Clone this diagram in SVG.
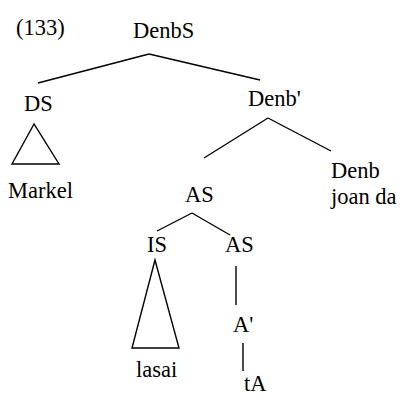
<svg xmlns="http://www.w3.org/2000/svg" width="400" height="396" viewBox="0 0 400 396">
<style>
text{font-family:"Liberation Serif","Times New Roman",serif;font-size:22.5px;fill:#000}
.e{stroke:#000;stroke-width:1.4;fill:none}
</style>
<rect width="400" height="396" fill="#fff"/>
<g id="connectors">
<line class="e" x1="149" y1="54" x2="38" y2="83"/>
<line class="e" x1="149" y1="54" x2="260" y2="80"/>
<line class="e" x1="268" y1="118" x2="204" y2="158"/>
<line class="e" x1="268" y1="118" x2="331" y2="151"/>
<polygon class="e" points="34,124 12,164 59,164"/>
<line class="e" x1="192" y1="213" x2="157" y2="231"/>
<line class="e" x1="192" y1="213" x2="230" y2="235"/>
<polygon class="e" points="155,260 132,348 179,348"/>
<line class="e" x1="236" y1="266" x2="236" y2="305"/>
<line class="e" x1="243" y1="343" x2="243" y2="371"/>
</g>
<g id="label133"><text x="16" y="35">(133)</text></g>
<g id="DenbS"><text x="133" y="38">DenbS</text></g>
<g id="DS"><text x="24" y="111">DS</text></g>
<g id="Denb1"><text x="248" y="106">Denb'</text></g>
<g id="Markel"><text x="8" y="198">Markel</text></g>
<g id="AS1"><text x="185" y="202">AS</text></g>
<g id="Denb"><text x="331" y="178">Denb</text><text x="331" y="204">joan da</text></g>
<g id="IS"><text x="147" y="252">IS</text></g>
<g id="AS2"><text x="225" y="252">AS</text></g>
<g id="A1"><text x="233" y="332">A'</text></g>
<g id="lasai"><text x="136" y="377">lasai</text></g>
<g id="tA"><text x="244" y="391">tA</text></g>
</svg>
